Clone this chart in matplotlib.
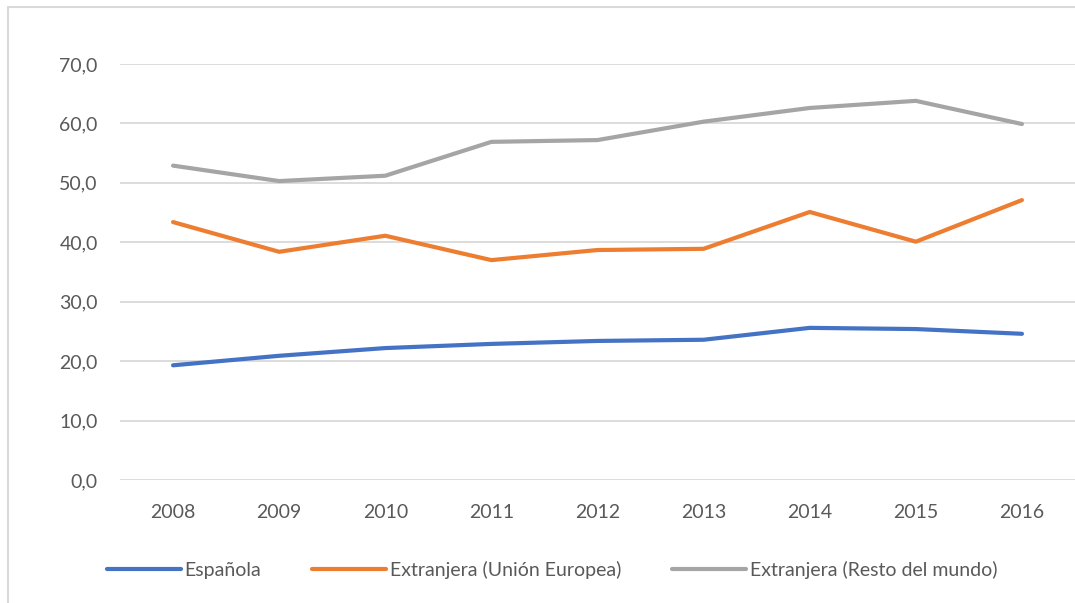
import matplotlib.pyplot as plt
from matplotlib.patches import Rectangle

years = ["2008", "2009", "2010", "2011", "2012", "2013", "2014", "2015", "2016"]
espanola = [19.3, 20.9, 22.2, 22.9, 23.4, 23.6, 25.6, 25.4, 24.6]
extr_ue = [43.4, 38.4, 41.1, 37.0, 38.7, 38.9, 45.1, 40.1, 47.1]
extr_resto = [52.9, 50.3, 51.2, 56.9, 57.2, 60.3, 62.6, 63.8, 59.9]
labels = ["Española", "Extranjera (Unión Europea)", "Extranjera (Resto del mundo)"]
colors = ["#4472C4", "#ED7D31", "#A5A5A5"]
yticks = [0, 10, 20, 30, 40, 50, 60, 70]

plt.rcParams['font.family'] = ['Lato', 'DejaVu Sans']
txt = "#595959"

fig = plt.figure(figsize=(10.75, 6.03), dpi=100)
# chart border (Excel-like frame)
fig.patches.append(Rectangle((8/1075, -0.05), 1.2, 1 - 7/603 + 0.05, transform=fig.transFigure,
                             fill=False, edgecolor="#D9D9D9", linewidth=1.5))

ax = fig.add_axes([120/1075, 1 - 480/603, 1 - 120/1075, (480 - 64)/603])
x = list(range(len(years)))
for series, lab, c in zip([espanola, extr_ue, extr_resto], labels, colors):
    ax.plot(x, series, color=c, linewidth=3, label=lab, solid_capstyle="round", solid_joinstyle="round")

ax.set_xlim(-0.5, len(years) - 0.5)
ax.set_ylim(0, 70)
ax.set_yticks(yticks)
ax.set_yticklabels([f"{v:.1f}".replace(".", ",") for v in yticks])
ax.set_xticks(x)
ax.set_xticklabels(years)
ax.grid(axis="y", color="#D9D9D9", linewidth=1.3)
ax.set_axisbelow(True)
for s in ax.spines.values():
    s.set_visible(False)
ax.tick_params(length=0, labelsize=14, colors=txt)
ax.tick_params(axis="x", pad=17)
ax.tick_params(axis="y", pad=16)

leg = fig.legend(loc="center", bbox_to_anchor=(552/1075, 1 - 570/603), ncol=3, frameon=False,
                 fontsize=14, handlelength=3.8, handletextpad=0.2, columnspacing=2.6)
for t in leg.get_texts():
    t.set_color(txt)

fig.savefig("out.png", dpi=100)
